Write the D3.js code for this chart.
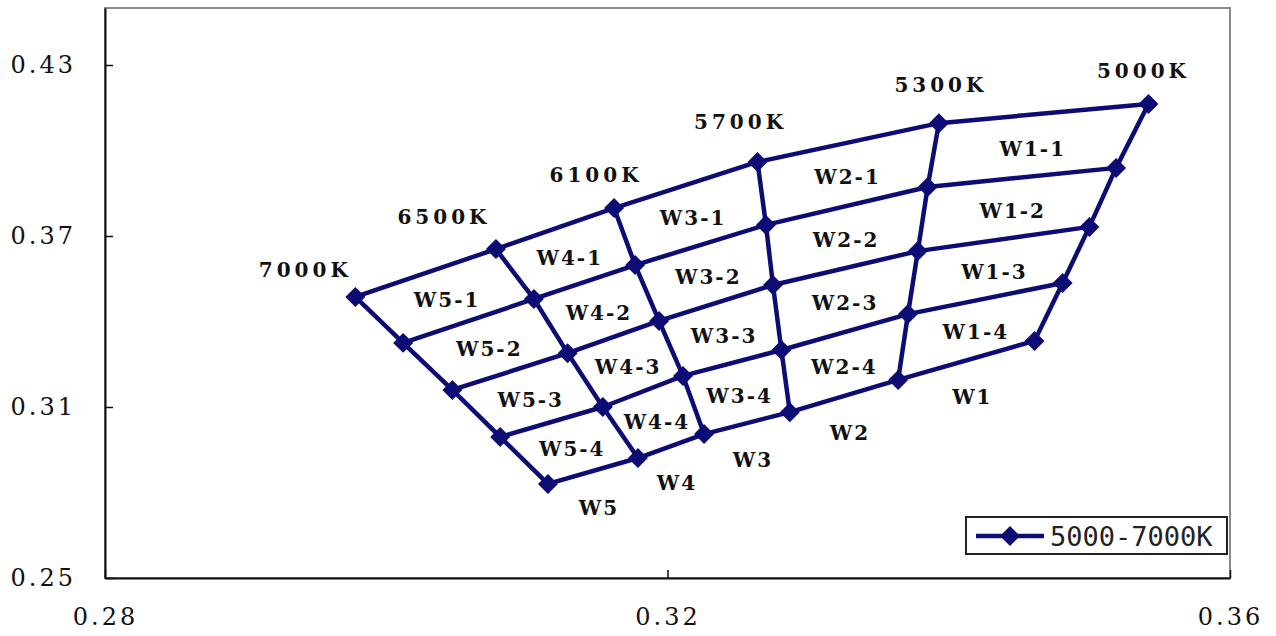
<!DOCTYPE html>
<html>
<head>
<meta charset="utf-8">
<script src="https://cdn.jsdelivr.net/npm/d3@7"></script>
<style>
  body { margin: 0; background: #fff; }
  svg { display: block; }
</style>
</head>
<body>
<div id="chart"></div>
<script>
// CCT columns (left to right), each with 5 corner points from top row to bottom row
const cctLabels = ["7000K", "6500K", "6100K", "5700K", "5300K", "5000K"];
const cieX = [
  [0.2978, 0.3012, 0.3047, 0.3081, 0.3115],
  [0.3078, 0.3105, 0.3129, 0.3154, 0.3179],
  [0.3162, 0.3177, 0.3194, 0.3211, 0.3226],
  [0.3264, 0.3270, 0.3275, 0.3281, 0.3287],
  [0.3393, 0.3385, 0.3378, 0.3371, 0.3364],
  [0.3542, 0.3519, 0.3500, 0.3481, 0.3461]
];
const cieY = [
  [0.3486, 0.3325, 0.3160, 0.2995, 0.2830],
  [0.3654, 0.3479, 0.3289, 0.3100, 0.2921],
  [0.3798, 0.3598, 0.3402, 0.3209, 0.3005],
  [0.3960, 0.3739, 0.3528, 0.3300, 0.3082],
  [0.4096, 0.3872, 0.3647, 0.3426, 0.3195],
  [0.4163, 0.3939, 0.3732, 0.3535, 0.3332]
];
// bins between neighbouring columns, and their sub-bins (rows)
const binNames = ["W5", "W4", "W3", "W2", "W1"];
const subBins = ["1", "2", "3", "4"];
const xTicks = [0.28, 0.32, 0.36];
const yTicks = [0.25, 0.31, 0.37, 0.43];
const seriesName = "5000-7000K";

// label offsets (px) of CCT names from the top corner of each column
const cctOffset = [[-52, -27], [-54, -32], [-20, -33], [-19, -40], [0, -38], [-7, -33]];

const W = 1276, H = 636;
const margin = {top: 8, right: 46, bottom: 58, left: 105};
const width = W - margin.left - margin.right,
      height = H - margin.top - margin.bottom;
const navy = "#0c0c74";

const svg = d3.select("#chart")
  .append("svg")
  .attr("width", W)
  .attr("height", H)
  .append("g")
  .attr("transform", `translate(${margin.left},${margin.top})`);

const x = d3.scaleLinear().domain([0.28, 0.36]).range([0, width]);
const y = d3.scaleLinear().domain([0.25, 0.45]).range([height, 0]);

// plot frame (grey top/right)
svg.append("rect")
  .attr("width", width)
  .attr("height", height)
  .attr("fill", "none")
  .attr("stroke", "#8a8a8a")
  .attr("stroke-width", 2);

// axes, ticks pointing inwards
const yAxis = svg.append("g")
  .call(d3.axisLeft(y).tickValues(yTicks).tickFormat(d3.format(".2f"))
    .tickSizeInner(-8).tickSizeOuter(0).tickPadding(29));
const xAxis = svg.append("g")
  .attr("transform", `translate(0,${height})`)
  .call(d3.axisBottom(x).tickValues(xTicks).tickFormat(d3.format(".2f"))
    .tickSizeInner(-8).tickSizeOuter(0).tickPadding(30));

[yAxis, xAxis].forEach(a => {
  a.select(".domain").attr("stroke", "#111").attr("stroke-width", 2);
  a.selectAll(".tick line").attr("stroke", "#111").attr("stroke-width", 1.5);
  a.selectAll("text")
    .attr("fill", "#111")
    .style("font-family", "'DejaVu Serif', serif")
    .style("font-size", "24px")
    .style("letter-spacing", "3px");
});

// build grid points
const cols = cctLabels.map((name, i) =>
  cieX[i].map((v, r) => ({x: v, y: cieY[i][r]})));
const rows = subBins.concat(["5"]).map((_, r) => cols.map(c => c[r]));

const line = d3.line().x(d => x(d.x)).y(d => y(d.y));

svg.append("g")
  .selectAll("path")
  .data(cols.concat(rows))
  .join("path")
  .attr("d", line)
  .attr("fill", "none")
  .attr("stroke", navy)
  .attr("stroke-width", 4.5)
  .attr("stroke-linejoin", "round");

// diamond markers
const diamond = d3.symbol(d3.symbolSquare, 200);
svg.append("g")
  .selectAll("path")
  .data(cols.flat())
  .join("path")
  .attr("d", diamond)
  .attr("transform", d => `translate(${x(d.x)},${y(d.y)}) rotate(45)`)
  .attr("fill", navy);

const labelFont = g => g
  .style("font-family", "'DejaVu Serif', serif")
  .style("font-weight", "bold")
  .style("font-size", "20px")
  .attr("fill", "#111")
  .attr("text-anchor", "middle")
  .attr("dominant-baseline", "central");

// CCT labels
svg.append("g")
  .selectAll("text")
  .data(cctLabels)
  .join("text")
  .attr("x", (d, i) => x(cols[i][0].x) + cctOffset[i][0] + 2)
  .attr("y", (d, i) => y(cols[i][0].y) + cctOffset[i][1])
  .style("letter-spacing", "4px")
  .text(d => d)
  .call(labelFont);

// sub-bin labels at cell centres
const cells = [];
binNames.forEach((b, i) => {
  subBins.forEach((s, r) => {
    const pts = [cols[i][r], cols[i][r + 1], cols[i + 1][r], cols[i + 1][r + 1]];
    cells.push({
      name: b + "-" + s,
      cx: d3.mean(pts, p => x(p.x)),
      cy: d3.mean(pts, p => y(p.y))
    });
  });
});
svg.append("g")
  .selectAll("text")
  .data(cells)
  .join("text")
  .attr("x", d => d.cx)
  .attr("y", d => d.cy + 3)
  .style("letter-spacing", "2px")
  .text(d => d.name)
  .call(labelFont);

// bin labels under the bottom edge
svg.append("g")
  .selectAll("text")
  .data(binNames)
  .join("text")
  .attr("x", (d, i) => (x(cols[i][4].x) + x(cols[i + 1][4].x)) / 2 + 6)
  .attr("y", (d, i) => (y(cols[i][4].y) + y(cols[i + 1][4].y)) / 2 + 37)
  .style("letter-spacing", "2px")
  .text(d => d)
  .call(labelFont);

// legend
const lg = svg.append("g")
  .attr("transform", `translate(${width - 264},${height - 61})`);
lg.append("rect")
  .attr("width", 261)
  .attr("height", 37)
  .attr("fill", "#fff")
  .attr("stroke", "#222")
  .attr("stroke-width", 2);
lg.append("line")
  .attr("x1", 10).attr("x2", 78)
  .attr("y1", 19).attr("y2", 19)
  .attr("stroke", navy)
  .attr("stroke-width", 4.5);
lg.append("path")
  .attr("d", diamond)
  .attr("transform", "translate(44,19) rotate(45)")
  .attr("fill", navy);
lg.append("text")
  .attr("x", 84)
  .attr("y", 19)
  .attr("dominant-baseline", "central")
  .style("font-family", "'DejaVu Sans Mono', monospace")
  .style("font-size", "27px")
  .attr("fill", "#222")
  .text(seriesName);
</script>
</body>
</html>
